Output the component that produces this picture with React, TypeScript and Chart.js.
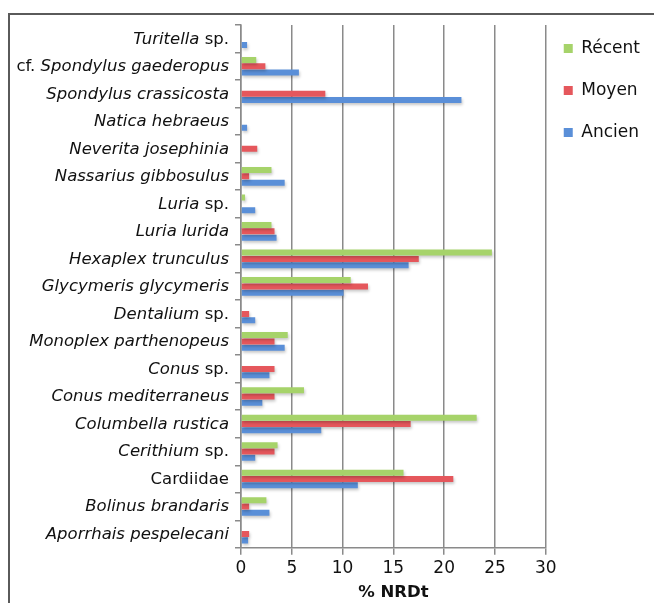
import React, { useEffect, useRef } from "react";
import { Chart, registerables } from "chart.js";

Chart.register(...registerables);

const categories = [
  "Turitella sp.",
  "cf. Spondylus gaederopus",
  "Spondylus crassicosta",
  "Natica hebraeus",
  "Neverita josephinia",
  "Nassarius gibbosulus",
  "Luria sp.",
  "Luria lurida",
  "Hexaplex trunculus",
  "Glycymeris glycymeris",
  "Dentalium sp.",
  "Monoplex parthenopeus",
  "Conus sp.",
  "Conus mediterraneus",
  "Columbella rustica",
  "Cerithium sp.",
  "Cardiidae",
  "Bolinus brandaris",
  "Aporrhais pespelecani",
];

const recent = [0, 1.5, 0, 0, 0, 3.0, 0.4, 3.0, 24.7, 10.8, 0, 4.6, 0, 6.2, 23.2, 3.6, 16.0, 2.5, 0];
const moyen = [0, 2.4, 8.3, 0, 1.6, 0.8, 0, 3.3, 17.5, 12.5, 0.8, 3.3, 3.3, 3.3, 16.7, 3.3, 20.9, 0.8, 0.8];
const ancien = [0.6, 5.7, 21.7, 0.6, 0, 4.3, 1.4, 3.5, 16.5, 10.1, 1.4, 4.3, 2.8, 2.1, 7.9, 1.4, 11.5, 2.8, 0.7];

const seriesNames = ["Récent", "Moyen", "Ancien"];
const xTicks = [0, 5, 10, 15, 20, 25, 30];
const axisTitle = "% NRDt";
// words printed upright (not italic) in the species labels
const uprightWords = ["sp.", "cf.", "Cardiidae"];

const FONT = "'DejaVu Sans', sans-serif";
const LABEL_SIZE = 15;
const LABEL_STRETCH = 1.1;

const mixedLabelsPlugin = {
  id: "mixedLabels",
  afterDraw(chart: any) {
    const scale = chart.scales.y;
    const ctx = chart.ctx;
    const right = scale.right - 12;
    scale.ticks.forEach((_t: any, i: number) => {
      const label = categories[i];
      const y = scale.getPixelForTick(i);
      const words = label.split(" ");
      const parts = words.map((w, k) => ({
        text: (k > 0 ? " " : "") + w,
        italic: !uprightWords.includes(w),
      }));
      ctx.save();
      ctx.fillStyle = "#111";
      ctx.textBaseline = "middle";
      ctx.textAlign = "left";
      ctx.translate(right, y + 1);
      ctx.scale(LABEL_STRETCH, 1);
      let total = 0;
      parts.forEach((p) => {
        ctx.font = `${p.italic ? "italic " : ""}${LABEL_SIZE}px ${FONT}`;
        total += ctx.measureText(p.text).width;
      });
      let x = -total;
      parts.forEach((p) => {
        ctx.font = `${p.italic ? "italic " : ""}${LABEL_SIZE}px ${FONT}`;
        ctx.fillText(p.text, x, 0);
        x += ctx.measureText(p.text).width;
      });
      ctx.restore();
    });
  },
};

const shadowPlugin = {
  id: "barShadow",
  beforeDatasetsDraw(chart: any) {
    const ctx = chart.ctx;
    ctx.save();
    ctx.shadowColor = "rgba(0,0,0,0.22)";
    ctx.shadowBlur = 3;
    ctx.shadowOffsetY = 2;
    ctx.shadowOffsetX = 1;
  },
  afterDatasetsDraw(chart: any) {
    chart.ctx.restore();
  },
};

const legendShiftPlugin = {
  id: "legendShift",
  afterLayout(chart: any) {
    const lg = chart.legend;
    if (!lg) return;
    lg.top -= 10;
    lg.bottom -= 10;
    lg.left -= 7;
    lg.right -= 7;
  },
};

export default function App() {
  const canvasRef = useRef<HTMLCanvasElement | null>(null);

  useEffect(() => {
    if (!canvasRef.current) return;
    const colors = ["#a6d36a", "#e5575c", "#5a8fd8"];
    const values = [recent, moyen, ancien];
    const chart = new Chart(canvasRef.current, {
      type: "bar",
      data: {
        labels: categories,
        datasets: seriesNames.map((name, i) => ({
          label: name,
          data: values[i],
          backgroundColor: colors[i],
          borderWidth: 0,
          categoryPercentage: 0.69,
          barPercentage: 0.95,
        })),
      },
      options: {
        indexAxis: "y",
        animation: false,
        responsive: false,
        maintainAspectRatio: false,
        layout: { padding: { top: 25, left: 0, right: -3, bottom: 0 } },
        plugins: {
          tooltip: { enabled: false },
          legend: {
            position: "right",
            align: "start",
            labels: {
              boxWidth: 9,
              boxHeight: 9,
              padding: 25,
              color: "#111",
              font: { family: FONT, size: 17 },
            },
          },
        },
        scales: {
          x: {
            min: 0,
            max: 30,
            afterBuildTicks: (axis: any) => {
              axis.ticks = xTicks.map((v) => ({ value: v }));
            },
            grid: {
              color: "#8a8a8a",
              lineWidth: 1.5,
              drawTicks: true,
              tickLength: 7,
            },
            border: { color: "#8a8a8a", width: 1.5 },
            ticks: {
              color: "#111",
              font: { family: FONT, size: 17 },
              padding: 4,
            },
            title: {
              display: true,
              text: axisTitle,
              color: "#111",
              font: { family: FONT, size: 16.5, weight: "bold" },
              padding: { top: 0, bottom: 0 },
            },
          },
          y: {
            afterFit: (axis: any) => {
              axis.width = 241;
            },
            grid: {
              offset: true,
              drawOnChartArea: false,
              drawTicks: true,
              tickLength: 6,
              color: "#8a8a8a",
              lineWidth: 1.5,
            },
            border: { color: "#8a8a8a", width: 1.5 },
            ticks: {
              color: "rgba(0,0,0,0)",
              font: { family: FONT, size: LABEL_SIZE, style: "italic" },
              padding: 6,
              autoSkip: false,
            },
          },
        },
      },
      plugins: [shadowPlugin, mixedLabelsPlugin, legendShiftPlugin],
    } as any);
    return () => chart.destroy();
  }, []);

  return (
    <div style={{ position: "fixed", left: 0, top: 0, width: 654, height: 603, overflow: "hidden", background: "#fff" }}>
      <div
        style={{
          position: "absolute",
          left: 8,
          top: 13,
          width: 700,
          height: 700,
          border: "2px solid #5a5a5a",
          boxSizing: "border-box",
        }}
      />
      <canvas
        ref={canvasRef}
        width={654}
        height={603}
        style={{ position: "absolute", left: 0, top: 0, width: 654, height: 603 }}
      />
    </div>
  );
}
